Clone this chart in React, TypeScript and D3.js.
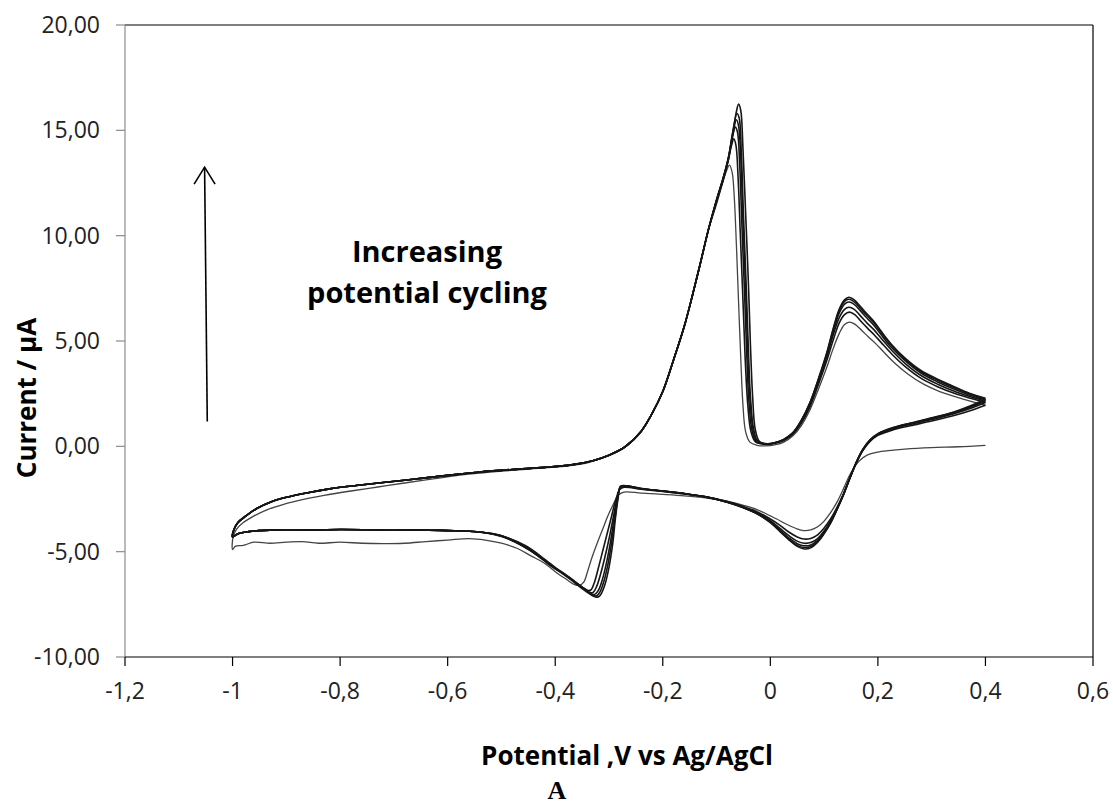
import React from "react";
import * as d3 from "d3";

type Pt = [number, number];

// Axis ticks and labels (decimal comma)
const xTicks = [-1.2, -1, -0.8, -0.6, -0.4, -0.2, 0, 0.2, 0.4, 0.6];
const xTickLabels = ["-1,2", "-1", "-0,8", "-0,6", "-0,4", "-0,2", "0", "0,2", "0,4", "0,6"];
const yTicks = [-10, -5, 0, 5, 10, 15, 20];
const yTickLabels = ["-10,00", "-5,00", "0,00", "5,00", "10,00", "15,00", "20,00"];

// Cathodic sweeps, 0.4 V down to -0.5 V, one per cycle (cycle 1 first)
const cathodicUpper: Pt[][] = [
  [[0.4, 0.05], [0.35, -0.02], [0.3, -0.06], [0.25, -0.13], [0.22, -0.2], [0.2, -0.27], [0.18, -0.42], [0.165, -0.7], [0.15, -1.25], [0.138, -1.9], [0.125, -2.6], [0.112, -3.15], [0.1, -3.55], [0.088, -3.82], [0.075, -3.97], [0.062, -4.0], [0.048, -3.9], [0.03, -3.7], [0.012, -3.45], [0.0, -3.3], [-0.025, -3.0], [-0.05, -2.8], [-0.08, -2.6], [-0.12, -2.45], [-0.16, -2.35], [-0.2, -2.28], [-0.24, -2.22], [-0.272, -2.17], [-0.282, -2.3], [-0.292, -2.75], [-0.302, -3.3], [-0.312, -3.95], [-0.322, -4.6], [-0.332, -5.3], [-0.34, -5.95], [-0.347, -6.45], [-0.355, -6.6], [-0.365, -6.55], [-0.38, -6.3], [-0.4, -5.95], [-0.42, -5.55], [-0.445, -5.2], [-0.47, -4.85], [-0.5, -4.6]],
  [[0.4, 1.95], [0.37, 1.68], [0.34, 1.45], [0.3, 1.2], [0.26, 0.98], [0.23, 0.8], [0.2, 0.52], [0.185, 0.22], [0.172, -0.2], [0.16, -0.78], [0.148, -1.5], [0.136, -2.25], [0.124, -2.9], [0.112, -3.45], [0.1, -3.88], [0.088, -4.2], [0.075, -4.37], [0.063, -4.4], [0.05, -4.3], [0.035, -4.08], [0.018, -3.75], [0.0, -3.45], [-0.025, -3.1], [-0.05, -2.86], [-0.08, -2.62], [-0.12, -2.4], [-0.16, -2.26], [-0.2, -2.14], [-0.24, -2.04], [-0.272, -1.94], [-0.28, -2.05], [-0.288, -2.6], [-0.296, -3.4], [-0.304, -4.2], [-0.312, -5.0], [-0.32, -5.8], [-0.327, -6.45], [-0.333, -6.8], [-0.338, -6.85], [-0.346, -6.75], [-0.36, -6.5], [-0.38, -6.1], [-0.41, -5.6], [-0.44, -5.05], [-0.47, -4.6], [-0.5, -4.28]],
  [[0.4, 2.08], [0.37, 1.78], [0.34, 1.53], [0.3, 1.27], [0.26, 1.04], [0.23, 0.84], [0.2, 0.56], [0.185, 0.26], [0.172, -0.18], [0.16, -0.77], [0.148, -1.5], [0.136, -2.28], [0.124, -2.96], [0.112, -3.56], [0.1, -4.02], [0.088, -4.38], [0.075, -4.57], [0.063, -4.6], [0.05, -4.5], [0.035, -4.25], [0.018, -3.9], [0.0, -3.53], [-0.025, -3.15], [-0.05, -2.89], [-0.08, -2.64], [-0.12, -2.4], [-0.16, -2.25], [-0.2, -2.13], [-0.24, -2.02], [-0.272, -1.9], [-0.279, -1.98], [-0.286, -2.6], [-0.293, -3.5], [-0.3, -4.4], [-0.308, -5.3], [-0.316, -6.1], [-0.323, -6.65], [-0.329, -6.92], [-0.334, -6.95], [-0.342, -6.82], [-0.357, -6.55], [-0.375, -6.2], [-0.4, -5.8], [-0.43, -5.2], [-0.465, -4.65], [-0.5, -4.26]],
  [[0.4, 2.15], [0.37, 1.84], [0.34, 1.58], [0.3, 1.31], [0.26, 1.07], [0.23, 0.87], [0.2, 0.58], [0.185, 0.28], [0.172, -0.16], [0.16, -0.76], [0.148, -1.5], [0.136, -2.29], [0.124, -2.98], [0.112, -3.6], [0.1, -4.08], [0.088, -4.46], [0.075, -4.68], [0.063, -4.72], [0.05, -4.62], [0.035, -4.36], [0.018, -3.98], [0.0, -3.58], [-0.025, -3.18], [-0.05, -2.9], [-0.08, -2.65], [-0.12, -2.4], [-0.16, -2.24], [-0.2, -2.12], [-0.24, -2.01], [-0.272, -1.88], [-0.279, -1.95], [-0.285, -2.55], [-0.291, -3.5], [-0.297, -4.5], [-0.304, -5.45], [-0.312, -6.3], [-0.319, -6.8], [-0.325, -7.0], [-0.33, -7.03], [-0.338, -6.92], [-0.352, -6.65], [-0.37, -6.3], [-0.395, -5.88], [-0.425, -5.3], [-0.46, -4.7], [-0.5, -4.25]],
  [[0.4, 2.2], [0.37, 1.87], [0.34, 1.6], [0.3, 1.33], [0.26, 1.09], [0.23, 0.89], [0.2, 0.59], [0.185, 0.29], [0.172, -0.15], [0.16, -0.75], [0.148, -1.5], [0.136, -2.3], [0.124, -3.0], [0.112, -3.63], [0.1, -4.12], [0.088, -4.52], [0.075, -4.76], [0.063, -4.8], [0.05, -4.7], [0.035, -4.42], [0.018, -4.02], [0.0, -3.6], [-0.025, -3.19], [-0.05, -2.91], [-0.08, -2.65], [-0.12, -2.4], [-0.16, -2.24], [-0.2, -2.12], [-0.24, -2.0], [-0.272, -1.87], [-0.279, -1.93], [-0.284, -2.5], [-0.289, -3.45], [-0.295, -4.55], [-0.302, -5.6], [-0.31, -6.45], [-0.317, -6.92], [-0.322, -7.08], [-0.327, -7.1], [-0.335, -6.98], [-0.35, -6.7], [-0.37, -6.32], [-0.39, -5.95], [-0.42, -5.35], [-0.455, -4.72], [-0.5, -4.24]],
  [[0.4, 2.25], [0.37, 1.9], [0.34, 1.62], [0.3, 1.35], [0.26, 1.1], [0.23, 0.9], [0.2, 0.6], [0.185, 0.3], [0.172, -0.15], [0.16, -0.75], [0.148, -1.5], [0.136, -2.3], [0.124, -3.0], [0.112, -3.65], [0.1, -4.15], [0.088, -4.55], [0.075, -4.82], [0.063, -4.87], [0.05, -4.75], [0.035, -4.45], [0.018, -4.05], [0.0, -3.62], [-0.025, -3.2], [-0.05, -2.92], [-0.08, -2.65], [-0.12, -2.4], [-0.16, -2.24], [-0.2, -2.12], [-0.24, -2.0], [-0.272, -1.86], [-0.279, -1.9], [-0.283, -2.45], [-0.288, -3.4], [-0.293, -4.6], [-0.3, -5.75], [-0.308, -6.6], [-0.315, -7.02], [-0.32, -7.15], [-0.325, -7.15], [-0.335, -7.02], [-0.35, -6.75], [-0.37, -6.35], [-0.39, -5.98], [-0.41, -5.65], [-0.44, -5.05], [-0.47, -4.6], [-0.5, -4.24]],
];

// Cathodic tail, -0.5 V to the -1.0 V vertex
const cathodicTailFirst: Pt[] = [[-0.53, -4.45], [-0.56, -4.38], [-0.6, -4.45], [-0.64, -4.52], [-0.68, -4.6], [-0.72, -4.62], [-0.76, -4.6], [-0.8, -4.55], [-0.84, -4.6], [-0.87, -4.52], [-0.9, -4.55], [-0.93, -4.6], [-0.96, -4.55], [-0.98, -4.7], [-0.995, -4.75], [-1.0, -4.9]];
const cathodicTail: Pt[] = [[-0.53, -4.1], [-0.56, -4.03], [-0.6, -4.0], [-0.65, -3.97], [-0.7, -3.98], [-0.75, -3.96], [-0.8, -3.95], [-0.85, -3.97], [-0.9, -3.96], [-0.94, -3.99], [-0.97, -4.05], [-0.99, -4.15], [-1.0, -4.3]];

// Anodic sweep from the vertex up to -0.33 V
const anodicLowerFirst: Pt[] = [[-0.999, -4.3], [-0.993, -3.95], [-0.98, -3.62], [-0.96, -3.3], [-0.935, -3.0], [-0.905, -2.75], [-0.87, -2.53], [-0.83, -2.33], [-0.78, -2.12], [-0.73, -1.93], [-0.68, -1.74], [-0.62, -1.52], [-0.56, -1.32], [-0.5, -1.18], [-0.44, -1.06], [-0.38, -0.94], [-0.34, -0.78]];
const anodicLower: Pt[] = [[-0.998, -4.0], [-0.99, -3.62], [-0.975, -3.3], [-0.955, -2.95], [-0.93, -2.65], [-0.9, -2.42], [-0.86, -2.2], [-0.82, -2.02], [-0.77, -1.86], [-0.72, -1.72], [-0.66, -1.55], [-0.6, -1.38], [-0.54, -1.22], [-0.48, -1.1], [-0.42, -1.0], [-0.37, -0.88], [-0.33, -0.68]];

// Rising foot of the first oxidation wave, common to all cycles
const anodicRise: Pt[] = [[-0.3, -0.42], [-0.27, -0.02], [-0.24, 0.72], [-0.22, 1.55], [-0.2, 2.6], [-0.18, 4.1], [-0.16, 5.7], [-0.145, 7.15], [-0.13, 8.7], [-0.115, 10.3]];

// Both oxidation peaks and the return to 0.4 V, one per cycle
const anodicUpper: Pt[][] = [
  [[-0.1, 11.5], [-0.09, 12.4], [-0.082, 13.05], [-0.076, 13.35], [-0.071, 13.0], [-0.067, 11.8], [-0.063, 9.5], [-0.059, 6.8], [-0.055, 4.2], [-0.051, 2.0], [-0.046, 0.7], [-0.038, 0.2], [-0.025, 0.05], [-0.01, 0.02], [0.01, 0.08], [0.025, 0.2], [0.042, 0.5], [0.058, 1.0], [0.074, 1.75], [0.09, 2.75], [0.105, 3.75], [0.117, 4.65], [0.128, 5.35], [0.138, 5.78], [0.147, 5.9], [0.157, 5.8], [0.17, 5.5], [0.182, 5.2], [0.195, 4.9], [0.21, 4.5], [0.23, 3.98], [0.255, 3.45], [0.285, 2.95], [0.315, 2.6], [0.345, 2.35], [0.375, 2.12], [0.4, 1.95]],
  [[-0.1, 11.6], [-0.088, 12.6], [-0.079, 13.5], [-0.072, 14.3], [-0.068, 14.6], [-0.064, 14.3], [-0.06, 12.8], [-0.056, 10.2], [-0.051, 7.0], [-0.047, 4.3], [-0.042, 2.0], [-0.036, 0.7], [-0.028, 0.22], [-0.012, 0.1], [0.005, 0.13], [0.025, 0.28], [0.042, 0.58], [0.058, 1.12], [0.074, 1.9], [0.09, 2.98], [0.105, 4.08], [0.117, 5.05], [0.128, 5.85], [0.138, 6.25], [0.147, 6.37], [0.157, 6.25], [0.169, 5.92], [0.181, 5.6], [0.193, 5.3], [0.207, 4.9], [0.227, 4.35], [0.252, 3.76], [0.282, 3.2], [0.312, 2.82], [0.342, 2.52], [0.372, 2.28], [0.4, 2.08]],
  [[-0.1, 11.65], [-0.088, 12.65], [-0.078, 13.6], [-0.071, 14.6], [-0.065, 15.15], [-0.061, 14.9], [-0.057, 13.4], [-0.053, 10.6], [-0.048, 7.3], [-0.044, 4.5], [-0.04, 2.2], [-0.034, 0.75], [-0.026, 0.22], [-0.01, 0.11], [0.005, 0.15], [0.025, 0.3], [0.042, 0.62], [0.058, 1.18], [0.074, 2.0], [0.09, 3.1], [0.105, 4.25], [0.117, 5.3], [0.128, 6.1], [0.138, 6.5], [0.146, 6.6], [0.156, 6.5], [0.168, 6.18], [0.18, 5.85], [0.192, 5.55], [0.206, 5.13], [0.226, 4.55], [0.251, 3.93], [0.281, 3.35], [0.311, 2.95], [0.341, 2.63], [0.371, 2.37], [0.4, 2.15]],
  [[-0.1, 11.7], [-0.088, 12.7], [-0.078, 13.65], [-0.07, 14.8], [-0.063, 15.5], [-0.059, 15.2], [-0.055, 13.7], [-0.051, 10.8], [-0.046, 7.5], [-0.042, 4.6], [-0.038, 2.3], [-0.032, 0.78], [-0.024, 0.22], [-0.008, 0.12], [0.008, 0.16], [0.025, 0.32], [0.042, 0.63], [0.058, 1.22], [0.074, 2.05], [0.09, 3.18], [0.105, 4.35], [0.117, 5.45], [0.128, 6.32], [0.138, 6.75], [0.146, 6.85], [0.156, 6.74], [0.168, 6.42], [0.18, 6.08], [0.192, 5.76], [0.205, 5.33], [0.225, 4.7], [0.25, 4.08], [0.28, 3.48], [0.31, 3.07], [0.34, 2.73], [0.37, 2.44], [0.4, 2.2]],
  [[-0.1, 11.7], [-0.088, 12.7], [-0.078, 13.7], [-0.07, 14.9], [-0.062, 15.8], [-0.058, 15.6], [-0.054, 14.0], [-0.05, 11.0], [-0.045, 7.7], [-0.041, 4.7], [-0.037, 2.35], [-0.031, 0.8], [-0.023, 0.22], [-0.007, 0.12], [0.008, 0.17], [0.025, 0.33], [0.042, 0.64], [0.058, 1.24], [0.074, 2.08], [0.09, 3.22], [0.105, 4.4], [0.117, 5.55], [0.128, 6.43], [0.138, 6.88], [0.146, 6.98], [0.156, 6.86], [0.168, 6.53], [0.18, 6.2], [0.192, 5.88], [0.205, 5.44], [0.225, 4.8], [0.25, 4.15], [0.28, 3.55], [0.31, 3.15], [0.34, 2.8], [0.37, 2.5], [0.4, 2.25]],
  [[-0.1, 11.7], [-0.088, 12.7], [-0.078, 13.7], [-0.069, 15.0], [-0.063, 15.9], [-0.059, 16.25], [-0.055, 15.95], [-0.051, 14.2], [-0.046, 11.1], [-0.041, 7.9], [-0.037, 4.8], [-0.033, 2.4], [-0.028, 0.8], [-0.02, 0.22], [-0.005, 0.12], [0.01, 0.18], [0.025, 0.33], [0.042, 0.65], [0.058, 1.25], [0.074, 2.1], [0.09, 3.25], [0.105, 4.45], [0.117, 5.6], [0.128, 6.5], [0.138, 6.95], [0.146, 7.08], [0.156, 6.95], [0.168, 6.62], [0.18, 6.28], [0.192, 5.95], [0.205, 5.5], [0.225, 4.85], [0.25, 4.2], [0.28, 3.6], [0.31, 3.2], [0.34, 2.85], [0.37, 2.52], [0.4, 2.28]],
];

const W = 1113;
const H = 807;
const plot = { left: 125, right: 1093, top: 25, bottom: 657 };

const FONT = "'Open Sans', 'Noto Sans', sans-serif";

export default function App() {
  const x = d3.scaleLinear().domain([-1.2, 0.6]).range([plot.left, plot.right]);
  const y = d3.scaleLinear().domain([-10, 20]).range([plot.bottom, plot.top]);

  const line = d3
    .line<Pt>()
    .x((d) => x(d[0]))
    .y((d) => y(d[1]))
    .curve(d3.curveCatmullRom.alpha(0.5));

  const cycles: Pt[][] = cathodicUpper.map((cath, k) =>
    k === 0
      ? [...cath, ...cathodicTailFirst, ...anodicLowerFirst, ...anodicRise, ...anodicUpper[k]]
      : [...cath, ...cathodicTail, ...anodicLower, ...anodicRise, ...anodicUpper[k]]
  );

  // arrow drawn in data space so it sits with the curves
  const arrowFrom: Pt = [-1.047, 1.18];
  const arrowTo: Pt = [-1.052, 13.25];
  const ax0 = x(arrowFrom[0]);
  const ay0 = y(arrowFrom[1]);
  const ax1 = x(arrowTo[0]);
  const ay1 = y(arrowTo[1]);

  return (
    <svg
      width={W}
      height={H}
      viewBox={`0 0 ${W} ${H}`}
      style={{ position: "absolute", left: 0, top: 0, background: "#fff" }}
    >
      <rect x={0} y={0} width={W} height={H} fill="#fff" />

      {/* frame */}
      <line x1={plot.left} x2={plot.right} y1={plot.top} y2={plot.top} stroke="#000" strokeWidth={1.2} />
      <line x1={plot.right} x2={plot.right} y1={plot.top} y2={plot.bottom} stroke="#000" strokeWidth={1.2} />
      <line x1={plot.left} x2={plot.left} y1={plot.top} y2={plot.bottom} stroke="#8c8c8c" strokeWidth={1.2} />
      <line x1={plot.left} x2={plot.right} y1={plot.bottom} y2={plot.bottom} stroke="#000" strokeWidth={1.2} />

      {/* y axis */}
      {yTicks.map((t, i) => (
        <g key={`y${t}`}>
          <line x1={plot.left - 9} x2={plot.left} y1={y(t)} y2={y(t)} stroke="#8c8c8c" strokeWidth={1.2} />
          <text
            x={plot.left - 25}
            y={y(t) + 8}
            textAnchor="end"
            fontFamily={FONT}
            fontSize={23}
            fill="#222"
          >
            {yTickLabels[i]}
          </text>
        </g>
      ))}

      {/* x axis */}
      {xTicks.map((t, i) => (
        <g key={`x${t}`}>
          <line x1={x(t)} x2={x(t)} y1={plot.bottom} y2={plot.bottom + 9} stroke="#000" strokeWidth={1.2} />
          <text
            x={x(t)}
            y={plot.bottom + 42}
            textAnchor="middle"
            fontFamily={FONT}
            fontSize={23}
            fill="#222"
          >
            {xTickLabels[i]}
          </text>
        </g>
      ))}

      {/* voltammogram cycles */}
      {cycles.map((c, k) => (
        <path
          key={`c${k}`}
          d={line(c) || ""}
          fill="none"
          stroke={k === 0 ? "#444" : "#161616"}
          strokeWidth={k === 0 ? 1.3 : 1.6}
          strokeLinejoin="round"
        />
      ))}

      {/* arrow */}
      <line x1={ax0} y1={ay0} x2={ax1} y2={ay1} stroke="#000" strokeWidth={1.6} />
      <polyline
        points={`${ax1 - 10.5},${ay1 + 17} ${ax1},${ay1} ${ax1 + 10.5},${ay1 + 17}`}
        fill="none"
        stroke="#000"
        strokeWidth={1.6}
      />

      {/* annotation */}
      <text x={427} y={262} textAnchor="middle" fontFamily={FONT} fontWeight={700} fontSize={29} fill="#000">
        Increasing
      </text>
      <text x={427} y={303} textAnchor="middle" fontFamily={FONT} fontWeight={700} fontSize={29} fill="#000">
        potential cycling
      </text>

      {/* axis titles */}
      <text x={627} y={765} textAnchor="middle" fontFamily={FONT} fontWeight={700} fontSize={26} fill="#000">
        Potential ,V vs Ag/AgCl
      </text>
      <text
        transform={`translate(36, 398) rotate(-90)`}
        textAnchor="middle"
        fontFamily={FONT}
        fontWeight={700}
        fontSize={26}
        fill="#000"
      >
        Current / µA
      </text>

      <text x={557} y={799} textAnchor="middle" fontFamily="'Liberation Serif', 'DejaVu Serif', serif" fontWeight={700} fontSize={26} fill="#000">
        A
      </text>
    </svg>
  );
}
